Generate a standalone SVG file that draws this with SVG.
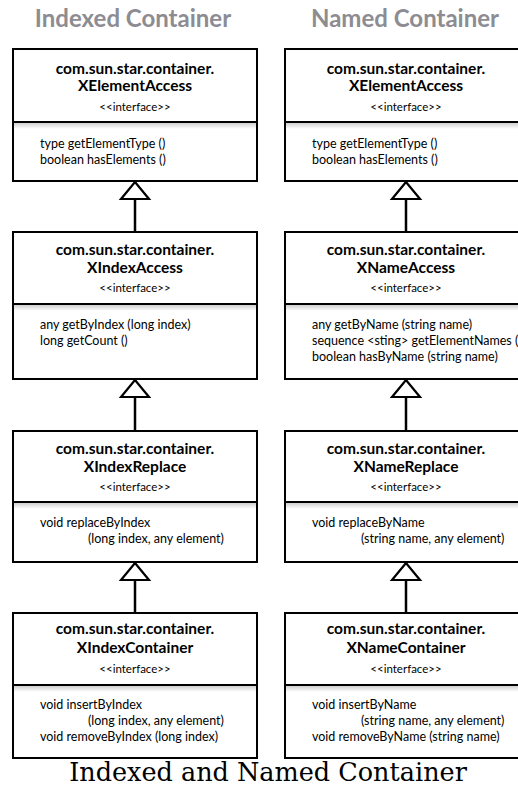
<svg xmlns="http://www.w3.org/2000/svg" width="518" height="788" viewBox="0 0 518 788">
<style>
.box{fill:#fff;stroke:#000;stroke-width:2}
.sep{stroke:#000;stroke-width:2}
.band{fill:url(#shade)}
.title{font-family:Lato,"Open Sans",sans-serif;font-weight:bold;font-size:24px;fill:#8c8c92;text-anchor:middle}
.h{font-family:Lato,"Open Sans",sans-serif;font-weight:bold;font-size:15.5px;fill:#000;text-anchor:middle}
.st{font-family:Lato,"Open Sans",sans-serif;font-size:11.5px;fill:#000;text-anchor:middle}
.m{font-family:Lato,"Open Sans",sans-serif;font-size:12.5px;fill:#000}
.cap{font-family:"DejaVu Serif",serif;font-size:25.5px;fill:#000;text-anchor:middle}
.conn{stroke:#000;stroke-width:2.5;fill:none;marker-end:url(#tri)}
</style>
<defs>
<linearGradient id="shade" x1="0" y1="0" x2="0" y2="1">
<stop offset="0" stop-color="#d0d0d0"/>
<stop offset="1" stop-color="#ffffff"/>
</linearGradient>
<marker id="tri" markerUnits="userSpaceOnUse" markerWidth="24" markerHeight="36" viewBox="-2 -18 24 36" refX="18" refY="0" orient="auto">
<path d="M1,-14 L18,0 L1,14 Z" fill="#fff" stroke="#000" stroke-width="2.2" stroke-linejoin="miter"/>
</marker>
</defs>
<rect width="518" height="788" fill="#fff"/>

<text class="title" x="133" y="27">Indexed Container</text>
<text class="title" x="405" y="27">Named Container</text>

<g id="connectors">
<line class="conn" x1="135" y1="232" x2="135" y2="182"/>
<line class="conn" x1="135" y1="431" x2="135" y2="380"/>
<line class="conn" x1="135" y1="613" x2="135" y2="563"/>
<line class="conn" x1="406" y1="232" x2="406" y2="182"/>
<line class="conn" x1="406" y1="431" x2="406" y2="380"/>
<line class="conn" x1="406" y1="613" x2="406" y2="563"/>
</g>

<g id="idx-elementaccess">
<rect class="box" x="13" y="49" width="244" height="132"/>
<rect class="band" x="14" y="123" width="242" height="6"/>
<line class="sep" x1="13" y1="122" x2="257" y2="122"/>
<text class="h" x="135" y="74">com.sun.star.container.</text>
<text class="h" x="135" y="91">XElementAccess</text>
<text class="st" x="135" y="111">&lt;&lt;interface&gt;&gt;</text>
<text class="m" x="40" y="148">type getElementType ()</text>
<text class="m" x="40" y="164">boolean hasElements ()</text>
</g>

<g id="idx-indexaccess">
<rect class="box" x="13" y="232" width="244" height="147"/>
<rect class="band" x="14" y="305" width="242" height="6"/>
<line class="sep" x1="13" y1="304" x2="257" y2="304"/>
<text class="h" x="135" y="255">com.sun.star.container.</text>
<text class="h" x="135" y="273">XIndexAccess</text>
<text class="st" x="135" y="292">&lt;&lt;interface&gt;&gt;</text>
<text class="m" x="40" y="329">any getByIndex (long index)</text>
<text class="m" x="40" y="345">long getCount ()</text>
</g>

<g id="idx-indexreplace">
<rect class="box" x="13" y="431" width="244" height="131"/>
<rect class="band" x="14" y="503" width="242" height="6"/>
<line class="sep" x1="13" y1="502" x2="257" y2="502"/>
<text class="h" x="135" y="454">com.sun.star.container.</text>
<text class="h" x="135" y="472">XIndexReplace</text>
<text class="st" x="135" y="491">&lt;&lt;interface&gt;&gt;</text>
<text class="m" x="40" y="527">void replaceByIndex</text>
<text class="m" x="88" y="543">(long index, any element)</text>
</g>

<g id="idx-indexcontainer">
<rect class="box" x="13" y="613" width="244" height="145"/>
<rect class="band" x="14" y="686" width="242" height="6"/>
<line class="sep" x1="13" y1="685" x2="257" y2="685"/>
<text class="h" x="135" y="634">com.sun.star.container.</text>
<text class="h" x="135" y="653">XIndexContainer</text>
<text class="st" x="135" y="673">&lt;&lt;interface&gt;&gt;</text>
<text class="m" x="40" y="709">void insertByIndex</text>
<text class="m" x="88" y="725">(long index, any element)</text>
<text class="m" x="40" y="741">void removeByIndex (long index)</text>
</g>

<g id="nam-elementaccess">
<rect class="box" x="285" y="49" width="244" height="132"/>
<rect class="band" x="286" y="123" width="242" height="6"/>
<line class="sep" x1="285" y1="122" x2="529" y2="122"/>
<text class="h" x="406" y="74">com.sun.star.container.</text>
<text class="h" x="406" y="91">XElementAccess</text>
<text class="st" x="406" y="111">&lt;&lt;interface&gt;&gt;</text>
<text class="m" x="312" y="148">type getElementType ()</text>
<text class="m" x="312" y="164">boolean hasElements ()</text>
</g>

<g id="nam-nameaccess">
<rect class="box" x="285" y="232" width="244" height="147"/>
<rect class="band" x="286" y="305" width="242" height="6"/>
<line class="sep" x1="285" y1="304" x2="529" y2="304"/>
<text class="h" x="406" y="255">com.sun.star.container.</text>
<text class="h" x="406" y="273">XNameAccess</text>
<text class="st" x="406" y="292">&lt;&lt;interface&gt;&gt;</text>
<text class="m" x="312" y="329">any getByName (string name)</text>
<text class="m" x="312" y="345">sequence &lt;sting&gt; getElementNames (</text>
<text class="m" x="312" y="361">boolean hasByName (string name)</text>
</g>

<g id="nam-namereplace">
<rect class="box" x="285" y="431" width="244" height="131"/>
<rect class="band" x="286" y="503" width="242" height="6"/>
<line class="sep" x1="285" y1="502" x2="529" y2="502"/>
<text class="h" x="406" y="454">com.sun.star.container.</text>
<text class="h" x="406" y="472">XNameReplace</text>
<text class="st" x="406" y="491">&lt;&lt;interface&gt;&gt;</text>
<text class="m" x="312" y="527">void replaceByName</text>
<text class="m" x="361" y="543">(string name, any element)</text>
</g>

<g id="nam-namecontainer">
<rect class="box" x="285" y="613" width="244" height="145"/>
<rect class="band" x="286" y="686" width="242" height="6"/>
<line class="sep" x1="285" y1="685" x2="529" y2="685"/>
<text class="h" x="406" y="634">com.sun.star.container.</text>
<text class="h" x="406" y="653">XNameContainer</text>
<text class="st" x="406" y="673">&lt;&lt;interface&gt;&gt;</text>
<text class="m" x="312" y="709">void insertByName</text>
<text class="m" x="361" y="725">(string name, any element)</text>
<text class="m" x="312" y="741">void removeByName (string name)</text>
</g>

<text class="cap" x="268" y="781">Indexed and Named Container</text>
</svg>
